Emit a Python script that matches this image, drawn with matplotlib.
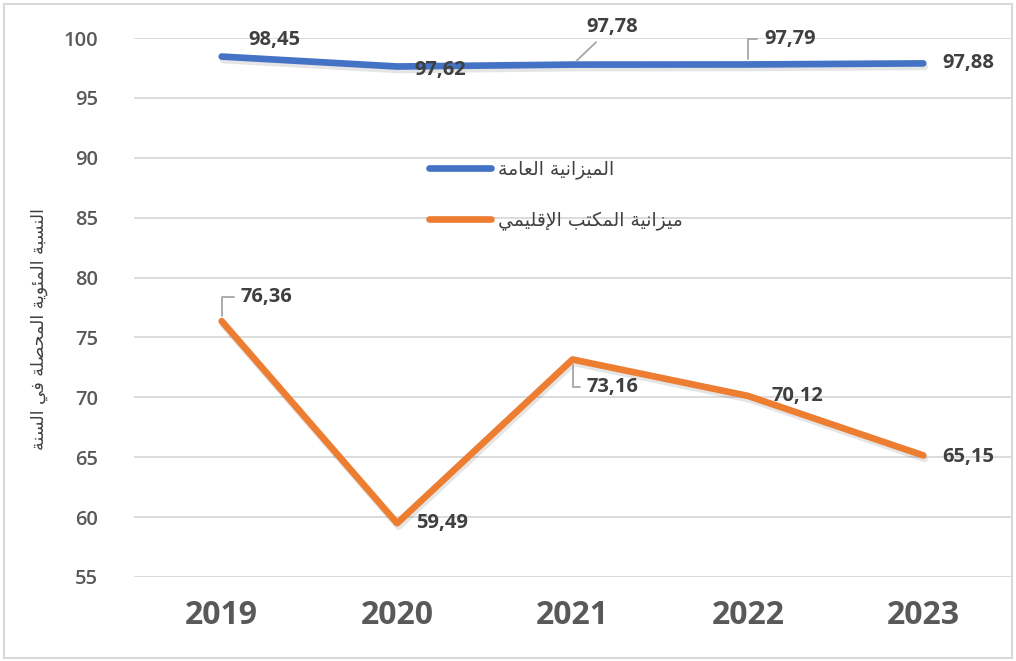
import matplotlib
matplotlib.use("Agg")
import matplotlib.pyplot as plt
import matplotlib.patheffects as pe
from matplotlib.lines import Line2D
from matplotlib.patches import Rectangle

years = ["2019", "2020", "2021", "2022", "2023"]
general = [98.45, 97.62, 97.78, 97.79, 97.88]
regional = [76.36, 59.49, 73.16, 70.12, 65.15]
general_name = "الميزانية العامة"
regional_name = "ميزانية المكتب الإقليمي"
y_title = "النسبة المئوية المحصلة في السنة"
y_ticks = [55, 60, 65, 70, 75, 80, 85, 90, 95, 100]

# label offsets in pixels (right, up) and leader style
general_lbl = [(53, 17, None), (43, -3, None), (40, 38, "straight"), (42, 25, "elbow"), (45, 0, None)]
regional_lbl = [(45, 24, "elbow"), (45, 0, None), (40, -28, "elbow"), (49, 0, None), (45, -2, None)]

# matplotlib has no arabic shaping, so pick presentation forms by hand
FORMS = {
    "ا": ("\uFE8D", "\uFE8E", None, None),
    "إ": ("\uFE87", "\uFE88", None, None),
    "ب": ("\uFE8F", "\uFE90", "\uFE91", "\uFE92"),
    "ة": ("\uFE93", "\uFE94", None, None),
    "ت": ("\uFE95", "\uFE96", "\uFE97", "\uFE98"),
    "ح": ("\uFEA1", "\uFEA2", "\uFEA3", "\uFEA4"),
    "ز": ("\uFEAF", "\uFEB0", None, None),
    "س": ("\uFEB1", "\uFEB2", "\uFEB3", "\uFEB4"),
    "ص": ("\uFEB9", "\uFEBA", "\uFEBB", "\uFEBC"),
    "ع": ("\uFEC9", "\uFECA", "\uFECB", "\uFECC"),
    "ف": ("\uFED1", "\uFED2", "\uFED3", "\uFED4"),
    "ق": ("\uFED5", "\uFED6", "\uFED7", "\uFED8"),
    "ك": ("\uFED9", "\uFEDA", "\uFEDB", "\uFEDC"),
    "ل": ("\uFEDD", "\uFEDE", "\uFEDF", "\uFEE0"),
    "م": ("\uFEE1", "\uFEE2", "\uFEE3", "\uFEE4"),
    "ن": ("\uFEE5", "\uFEE6", "\uFEE7", "\uFEE8"),
    "و": ("\uFEED", "\uFEEE", None, None),
    "ي": ("\uFEF1", "\uFEF2", "\uFEF3", "\uFEF4"),
    "ئ": ("\uFE89", "\uFE8A", "\uFE8B", "\uFE8C"),
}
LAM_ALEF = {"ا": ("\uFEFB", "\uFEFC"), "إ": ("\uFEF9", "\uFEFA")}


def shape(text):
    out = []
    i = 0
    n = len(text)
    while i < n:
        c = text[i]
        prev = text[i - 1] if i > 0 else ""
        joins_prev = prev in FORMS and FORMS[prev][2] is not None
        if c == "ل" and i + 1 < n and text[i + 1] in LAM_ALEF:
            lig = LAM_ALEF[text[i + 1]]
            out.append(lig[1] if joins_prev else lig[0])
            i += 2
            continue
        if c not in FORMS:
            out.append(c)
            i += 1
            continue
        nxt = text[i + 1] if i + 1 < n else ""
        f = FORMS[c]
        joins_next = f[2] is not None and nxt in FORMS
        if joins_prev and joins_next:
            out.append(f[3])
        elif joins_prev:
            out.append(f[1])
        elif joins_next:
            out.append(f[2])
        else:
            out.append(f[0])
        i += 1
    return "".join(out[::-1])


W, H = 1016, 661
fig = plt.figure(figsize=(W / 100, H / 100), dpi=100)
fig.patches.append(Rectangle((4 / W, 3 / H), 1 - 8 / W, 1 - 7 / H, transform=fig.transFigure,
                             fill=False, edgecolor="#d9d9d9", lw=1.5))
ax = fig.add_axes([134 / W, 1 - 577 / H, 877 / W, 539 / H])

x = list(range(len(years)))
shadow = [pe.SimpleLineShadow(offset=(1, -2.5), alpha=0.1, shadow_color="k"), pe.Normal()]
ax.plot(x, general, color="#4472C4", lw=4.8, solid_capstyle="round", solid_joinstyle="round",
        path_effects=shadow, zorder=3)
ax.plot(x, regional, color="#ED7D31", lw=4.8, solid_capstyle="round", solid_joinstyle="round",
        path_effects=shadow, zorder=3)

ax.set_xlim(-0.5, len(years) - 0.5)
ax.set_ylim(55, 100)
ax.set_yticks(y_ticks)
ax.set_xticks(x)
ax.set_xticklabels(years)
for s in ax.spines.values():
    s.set_visible(False)
ax.tick_params(length=0)
ax.tick_params(axis="y", pad=26)
ax.tick_params(axis="x", pad=16)
ax.grid(axis="y", color="#d9d9d9", lw=1.3)
ax.set_axisbelow(True)
for t in ax.get_yticklabels():
    t.set_fontfamily("Open Sans")
    t.set_fontweight("semibold")
    t.set_fontsize(14.5)
    t.set_color("#595959")
for t in ax.get_xticklabels():
    t.set_fontfamily("Open Sans")
    t.set_fontweight("bold")
    t.set_fontsize(23)
    t.set_color("#595959")


def add_labels(values, specs):
    for i, (v, (dx, dy, leader)) in enumerate(zip(values, specs)):
        txt = f"{v:.2f}".replace(".", ",")
        arrow = None
        if leader == "elbow":
            arrow = dict(arrowstyle="-", color="#a6a6a6", lw=1.3,
                         connectionstyle="angle,angleA=0,angleB=90,rad=0", shrinkA=3, shrinkB=4)
        elif leader == "straight":
            arrow = dict(arrowstyle="-", color="#a6a6a6", lw=1.3, shrinkA=3, shrinkB=4)
        ax.annotate(txt, xy=(i, v), xytext=(dx * 0.72, dy * 0.72), textcoords="offset points",
                    ha="center", va="center", fontfamily="Open Sans", fontweight="bold",
                    fontsize=14.5, color="#404040", arrowprops=arrow, zorder=4)


add_labels(general, general_lbl)
add_labels(regional, regional_lbl)

ax.set_ylabel(shape(y_title), fontfamily="DejaVu Sans", fontsize=12.5, color="#404040")
ax.yaxis.set_label_coords(-86 / 877, 0.46)

handles = [Line2D([], [], color="#4472C4", lw=4.8, solid_capstyle="round"),
           Line2D([], [], color="#ED7D31", lw=4.8, solid_capstyle="round")]
leg = ax.legend(handles, [shape(general_name), shape(regional_name)], loc="upper left",
                bbox_to_anchor=(420 / W, 1 - 150 / H), bbox_transform=fig.transFigure,
                frameon=False, handlelength=3.3, handletextpad=0.35, labelspacing=1.7,
                borderpad=0, prop={"family": "DejaVu Sans", "size": 13.5})
for t in leg.get_texts():
    t.set_color("#404040")

fig.savefig("out.png", dpi=100)
